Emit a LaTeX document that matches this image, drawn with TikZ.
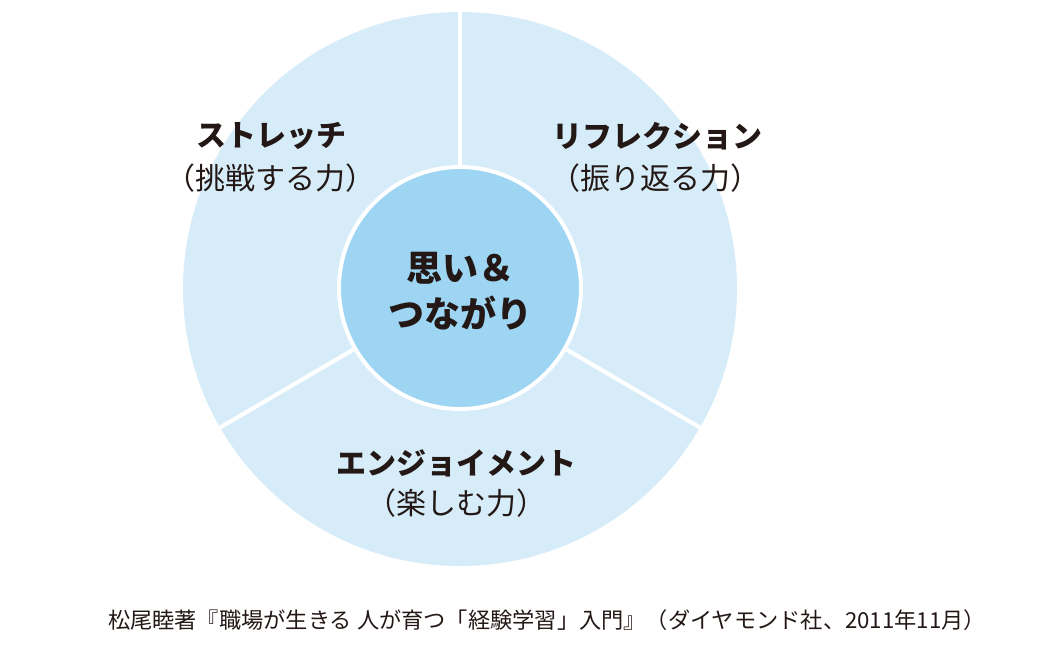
\documentclass[tikz,border=0pt]{standalone}
\usepackage{fontspec}
\setmainfont{Noto Sans CJK JP}
\usepackage{xcolor}

\definecolor{ringblue}{HTML}{D6EDF9}
\definecolor{coreblue}{HTML}{9DD5F2}
\definecolor{inkdark}{HTML}{231815}

\tikzset{
  headtext/.style={font=\bfseries\fontsize{30}{35}\selectfont, text=inkdark},
  subtext/.style={font=\fontsize{30}{35}\selectfont, text=inkdark},
  divider/.style={white, line width=4pt}
}

\begin{document}
\begin{tikzpicture}[x=1pt, y=-1pt]

\useasboundingbox[fill=white] (0,0) rectangle (1040,654);

% ===== Circles =====

\node[circle, fill=ringblue, minimum size=554pt, inner sep=0pt] (ring) at (460,289) {};
\node[circle, fill=coreblue, draw=white, line width=4pt, minimum size=242pt, inner sep=0pt] (core) at (460,288) {};

% ===== Dividers =====

\draw[divider] (core.90) -- (ring.90);
\draw[divider] (core.210) -- (ring.210);
\draw[divider] (core.330) -- (ring.330);

% ===== Labels =====

\node[font=\bfseries\fontsize{36}{40}\selectfont, text=inkdark] (omoi) at (460,268) {思い＆};
\node[font=\bfseries\fontsize{36}{40}\selectfont, text=inkdark] (tsunagari) at (460,313) {つながり};

\node[headtext] (stretch) at (271,136) {ストレッチ};
\node[subtext] (stretchsub) at (270,178) {（挑戦する力）};

\node[headtext] (reflect) at (657,136) {リフレクション};
\node[subtext] (reflectsub) at (655,178) {（振り返る力）};

\node[headtext] (enjoy) at (456,463) {エンジョイメント};
\node[subtext] (enjoysub) at (456,503) {（楽しむ力）};

% ===== Source =====

\node[font=\fontsize{22}{25}\selectfont, text=inkdark, xscale=1.01] (source) at (547,620)
  {松尾睦著『職場が生きる 人が育つ「経験学習」入門』（ダイヤモンド社、2011年11月）};

\end{tikzpicture}
\end{document}
